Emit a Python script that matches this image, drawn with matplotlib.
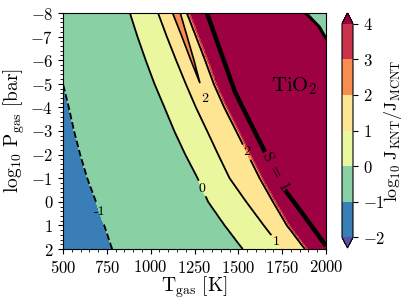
import numpy as np
import matplotlib.pyplot as plt
from matplotlib.ticker import MultipleLocator

plt.rcParams['font.family'] = 'serif'
plt.rcParams['font.serif'] = ['cmr10']
plt.rcParams['mathtext.fontset'] = 'cm'
plt.rcParams['axes.formatter.use_mathtext'] = True

# log10 P rows on which the contour crossings were read
logp_rows = [-8, -7, -6, -5, -4, -3, -2, -1, 0, 1, 2]

# T_gas [K] where log10 J_KNT/J_MCNT crosses each level, per row
t_lev_m1 = [410, 440, 470, 500, 533, 563, 598, 638, 688, 735, 780]
t_lev_0 = [882, 925, 972, 1022, 1079, 1135, 1198, 1268, 1328, 1422, 1525]
t_lev_1 = [1042, 1092, 1145, 1200, 1258, 1322, 1385, 1450, 1545, 1645, 1750]
t_lev_2 = [1207, 1259, 1311, 1360, 1420, 1488, 1555, 1622, 1698, 1777, 1880]
t_lev_3 = [1221, 1273, 1325, 1374, 1434, 1502, 1569, 1636, 1712, 1791, 1894]
t_lev_4 = [1229, 1281, 1333, 1382, 1442, 1510, 1577, 1644, 1720, 1799, 1902]

# orange tongue (2..3) near the top
tongue_p = [-8, -7, -6, -5.03]
tongue_left = [1125, 1178, 1229, 1281]
tongue_right = [1169, 1208, 1247, 1281]

# top right corner where the ratio drops back
corner_p = [-8, -7.65, -7.44, -7.08, -6.87]
corner_t = [1880, 1927, 1956, 1984, 2004]
corner_green_t = [1892, 1937, 1965, 1993, 2013]

# supersaturation S = 1 line (two pieces, label in the gap)
s_top_t = [1321, 1481, 1566, 1652]
s_top_p = [-8, -4.65, -3.38, -2.11]
s_bot_t = [1766, 1880, 1983, 2000]
s_bot_p = [-0.5, 0.64, 1.70, 1.87]

levels = [-2, -1, 0, 1, 2, 3, 4]

#BUILD THE FIELD FROM THE CROSSINGS
t_grid = np.linspace(500, 2000, 601)
p_grid = np.linspace(-8, 2, 401)
lev_t = [t_lev_m1, t_lev_0, t_lev_1, t_lev_2, t_lev_3, t_lev_4]
lev_v = [-1, 0, 1, 2, 3, 4]
z = np.empty((p_grid.size, t_grid.size))
for i, p in enumerate(p_grid):
    xs = [np.interp(p, logp_rows, tt) for tt in lev_t]
    xs = [xs[0] - 400] + xs + [2300]
    vs = [-2] + lev_v + [5]
    z[i] = np.interp(t_grid, xs, vs)

fig = plt.figure(figsize=(4.07, 3.05), dpi=100)
ax = fig.add_axes([63/407, 1-249/305, 263/407, 236/305])
cax = fig.add_axes([342/407, 1-248/305, 11/407, 235/305])

cf = ax.contourf(t_grid, p_grid, z, levels=levels, cmap='Spectral_r', extend='both')
band = lambda v: cf.cmap(cf.norm(v))

ax.fill(tongue_left + tongue_right[::-1], tongue_p + tongue_p[::-1],
        facecolor=band(2.5), edgecolor='k', lw=1.2, zorder=1.5)

ax.fill(corner_t + [2050], corner_p + [-8], facecolor=band(0.5), zorder=1.6)
ax.fill(corner_green_t + [2050], corner_p + [-8], facecolor=band(-0.5), zorder=1.7)
ax.plot(corner_t, corner_p, color='k', lw=1.6, zorder=1.8)
ax.plot(corner_green_t, corner_p, color='k', lw=1.0, zorder=1.8)

cs = ax.contour(t_grid, p_grid, z, levels=[-1, 0, 1, 2], colors='k', linewidths=1.3)
labs = ax.clabel(cs, fmt={-1: '-1', 0: '0', 1: '1', 2: '2'}, fontsize=10, inline=True,
                 colors='k',
                 manual=[(700, 0.45), (1298, -0.58), (1720, 1.7), (1530, -2.03)])
for t in labs:
    t.set_rotation(0)
    t.set_zorder(4)
ax.text(1310, -4.35, '2', fontsize=10, ha='center', va='center')

ax.plot(s_top_t, s_top_p, color='k', lw=3.2, solid_capstyle='butt')
ax.plot(s_bot_t, s_bot_p, color='k', lw=3.2, solid_capstyle='butt')
ax.text(1712, -1.3, r'$\mathrm{S\ =\ 1}$', fontsize=11, rotation=-62,
        ha='center', va='center', rotation_mode='anchor')

ax.text(1817, -4.9, r'$\mathrm{TiO_2}$', fontsize=15, ha='center', va='center')

ax.set_xlim(500, 2000)
ax.set_ylim(2, -8)
ax.set_xticks([500, 750, 1000, 1250, 1500, 1750, 2000])
ax.set_yticks(range(-8, 3))
ax.xaxis.set_minor_locator(MultipleLocator(50))
ax.yaxis.set_minor_locator(MultipleLocator(0.2))
ax.tick_params(labelsize=12)
ax.set_xlabel(r'$\mathrm{T_{gas}\ [K]}$', fontsize=14, labelpad=-1)
ax.set_ylabel(r'$\log_{10}\,\mathrm{P_{gas}\ [bar]}$', fontsize=14, labelpad=2)

cb = fig.colorbar(cf, cax=cax, ticks=levels)
cb.ax.tick_params(labelsize=12)
cb.set_label(r'$\log_{10}\,\mathrm{J_{KNT}/J_{MCNT}}$', fontsize=13, labelpad=-2)

fig.savefig('out.png', dpi=100)
